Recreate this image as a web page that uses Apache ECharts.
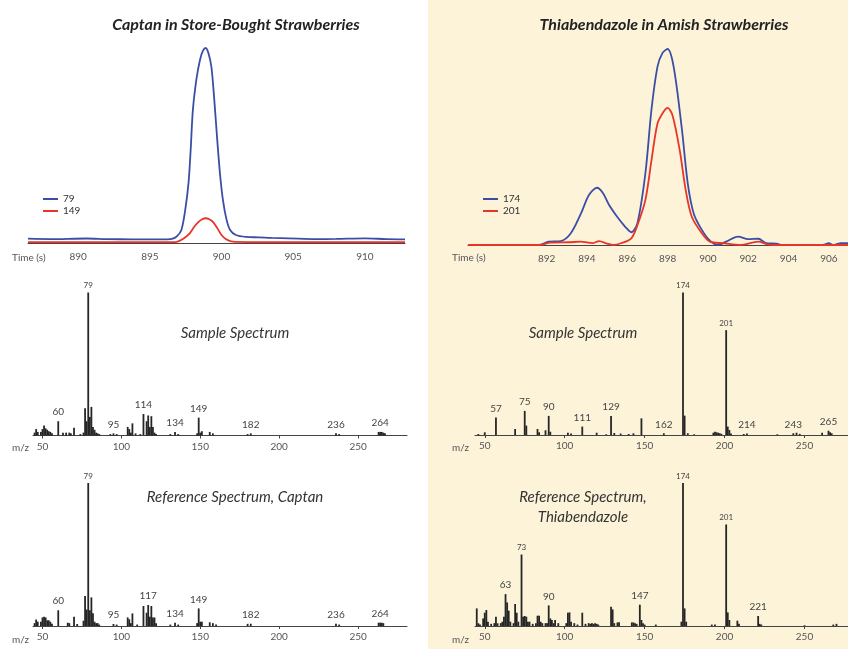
<!DOCTYPE html>
<html>
<head>
<meta charset="utf-8">
<script src="https://cdn.jsdelivr.net/npm/echarts@6/dist/echarts.min.js"></script>
<style>
  html, body { margin: 0; padding: 0; background: #ffffff; }
  #chart { width: 848px; height: 649px; }
</style>
</head>
<body>
<div id="chart"></div>
<script>
// ---------- Chromatogram data (time in s, relative intensity) ----------
const captanT79 = [886.5, 888, 890.6, 892, 893.8, 895, 896.2, 896.6, 896.9, 897.2, 897.45, 897.7, 897.85, 898.0, 898.25, 898.5, 898.7, 898.9, 899.1, 899.3, 899.5, 899.7, 899.9, 900.1, 900.35, 900.6, 901.0, 901.7, 902.6, 903.5, 904.7, 906.6, 908, 910, 911.5, 912.8];
const captanV79 = [2.2, 2.0, 2.3, 2.0, 1.9, 1.9, 1.9, 2.2, 3.5, 6.7, 16, 31, 48, 68, 84, 94, 98.5, 100, 97, 90, 73, 53, 35, 22, 12, 6.7, 4.1, 3.1, 2.9, 2.6, 2.4, 2.0, 2.1, 2.4, 2.0, 1.9];
const captanT149 = [886.5, 890, 895, 896.8, 897.1, 897.45, 897.8, 898.1, 898.4, 898.65, 898.9, 899.15, 899.4, 899.7, 900.0, 900.3, 900.6, 901, 903, 906, 910, 912.8];
const captanV149 = [0.4, 0.4, 0.4, 0.5, 1.2, 2.8, 5.1, 8.3, 10.8, 12.2, 12.7, 12.2, 10.8, 7.7, 4.1, 2.0, 1.0, 0.6, 0.5, 0.5, 0.5, 0.5];

const thiaT174 = [888.1, 890, 891.6, 892.1, 892.7, 893.2, 893.7, 894.1, 894.5, 894.8, 895.1, 895.5, 895.9, 896.2, 896.5, 896.9, 897.2, 897.5, 897.75, 898.0, 898.3, 898.7, 899.0, 899.3, 899.7, 900.1, 900.5, 900.9, 901.5, 902.0, 902.5, 902.9, 903.4, 903.7, 905.7, 906.0, 906.2, 906.6, 906.95];
const thiaV174 = [0, 0, 0, 1.7, 2, 6, 16, 25.5, 29.2, 26.4, 20.4, 14.4, 9.3, 6.5, 11, 36.6, 69, 91, 98, 100, 91, 60, 31.5, 16, 7.7, 2.2, 0, 1.7, 4.3, 3, 3.2, 0.9, 0.7, 0, 0, 0.9, 0, 1, 1];
const thiaT201 = [888.1, 891.6, 892.2, 893.1, 893.7, 894.05, 894.3, 894.6, 895.0, 895.3, 895.7, 896.2, 896.5, 896.9, 897.2, 897.5, 897.8, 898.0, 898.25, 898.6, 898.9, 899.2, 899.7, 900.1, 900.8, 901.6, 902.5, 902.9, 903.3, 906.95];
const thiaV201 = [0, 0, 1.2, 1.4, 1.7, 1.2, 1, 2, 0.7, 0, 0.9, 3.4, 10, 23, 43, 62, 68, 70, 66, 48.5, 28, 14.4, 6, 1.7, 0.9, 0, 1.7, 0.5, 0, 0];

const captanTicks = [890, 895, 900, 905, 910];
const thiaTicks = [892, 894, 896, 898, 900, 902, 904, 906];
const mzTicks = [50, 100, 150, 200, 250];

// ---------- Mass spectra (m/z, % of base peak) ----------
const captanSampleMz = [45,46,47,49,50,51,52,53,54,55,56,60,63,65,67,68,70,74,76,77,78,79,80,81,82,83,84,85,86,93,95,97,104,105,106,107,109,112,114,116,117,118,119,120,121,122,131,134,136,148,149,150,151,156,158,180,182,236,238,263,264,265,266,267];
const captanSampleInt = [2,4.5,2.5,2.5,4.5,7,5,4,3,2.5,1.5,10,2,2,2,1.5,5.5,1,2,19,10,100,13,20,6,4,2,1.5,1,1,1.5,1,6,4.5,2,8.5,1.5,1,15,10,14,6,13.5,6,2,1,1,2.5,1,1.5,12.5,2,3,2.5,1.5,1,1.5,1.5,1,2.5,2.5,2.5,2,1.5];
const captanSampleLabels = [60, 79, 95, 114, 134, 149, 182, 236, 264];

const captanRefMz = [45,46,47,49,50,51,52,53,54,55,56,60,66,67,70,72,76,77,78,79,80,81,82,83,84,85,86,95,97,104,105,106,107,110,114,116,117,118,119,120,121,122,131,134,136,148,149,150,151,156,158,160,180,182,236,238,263,264,265,266];
const captanRefInt = [2,4.5,3,3,6,6.5,6,4,4,3,1.5,11,2.3,2,6.5,1.4,3.7,21,11.5,100,11,20,9,3,2,2,1,1.4,1,6,4.7,2,8.8,1,14,9.3,14.7,6.5,14,6,6,2,1,2.3,1,2,12.3,3,3,2.6,2,1,1.5,1.6,1.5,1,2.3,2.3,2.3,2];
const captanRefLabels = [60, 79, 95, 117, 134, 149, 182, 236, 264];

const thiaSampleMz = [46,50,57,69,75,76,83,84,88,90,91,102,104,111,120,126,129,131,135,140,143,148,162,174,175,177,181,193,194,195,196,197,198,201,202,203,204,212,214,233,243,245,247,261,265,266,267];
const thiaSampleInt = [0.7,1.9,12.2,4.2,16.9,6.6,4.2,1.9,3.3,13.4,2.3,1.6,1,5.9,1.6,0.5,13.4,1.4,1,0.7,1.2,11.7,1.2,100,13.6,1.2,0.5,1.6,2.3,1.9,1.6,1.2,0.8,73.6,5.9,3.5,1,0.7,1,0.5,1.2,1.6,0.8,1.6,3,2,1.2];
const thiaSampleLabels = [57, 75, 90, 111, 129, 162, 174, 201, 214, 243, 265];

const thiaRefMz = [45,46,47,49,50,51,52,54,56,57,58,60,61,62,63,64,65,66,68,69,70,71,73,74,75,76,77,78,80,82,83,84,85,86,88,89,90,91,92,93,94,96,101,102,103,104,106,108,111,113,115,116,117,118,119,120,121,129,130,131,133,134,142,143,144,145,147,148,149,150,157,173,174,175,176,192,194,201,202,203,208,209,221,222,223,250,268,270];
const thiaRefInt = [12.3,1.9,1,5.3,9.3,11.2,3,1.5,2,6.5,1.9,2,3,6.5,22.3,16.5,10.7,3,2,15.4,9.3,3,50,6.5,7,6.5,3,3,1.5,2,7.2,7.2,3,2,2,2,14.4,5.3,4.2,2,4.2,2,2,9.3,9.5,3,2,1,9.3,1.5,2,1.5,2,1.5,2,1.5,1,13.5,11.6,2,2.5,2.6,2.5,2.5,2,1.5,14.9,4.2,2,1,1,3,100,12.3,3,1,1,71,9.5,4.2,3.7,1.5,7,1.5,1,0.5,1,1.5];
const thiaRefLabels = [63, 73, 90, 147, 174, 201, 221];

// ---------- Styling ----------
const FONT = '"Liberation Sans Narrow", "Lato", "Open Sans", sans-serif';
const TITLE_FONT = '"Lato", "Open Sans", sans-serif';
const BLUE = '#3b4ea6';
const RED = '#e8352a';
const AXIS = '#444444';
const TXT = '#555555';
const BAR = '#262626';
const CREAM = '#fcf3d9';

function zip(a, b) { return a.map((v, i) => [v, b[i]]); }

function barData(mz, inten, labels) {
  return mz.map((m, i) => {
    const item = { value: [m, inten[i]] };
    if (labels.includes(m)) {
      const big = inten[i] > 40;
      item.label = {
        show: true, position: 'top', distance: big ? 3 : 4,
        fontSize: big ? 8 : 10, color: '#444', fontFamily: FONT,
        formatter: String(m)
      };
    }
    return item;
  });
}

// grids: 0 captan chrom, 1 thia chrom, 2 captan sample, 3 thia sample, 4 captan ref, 5 thia ref
const grids = [
  { left: 28, width: 377, top: 48, height: 195 },
  { left: 468, width: 380, top: 49, height: 196 },
  { left: 33, width: 374, top: 292.5, height: 143 },
  { left: 475, width: 373, top: 292.5, height: 142.5 },
  { left: 33, width: 374, top: 483, height: 143 },
  { left: 475, width: 373, top: 483, height: 143 }
];

function chromX(idx, min, max, ticks) {
  return {
    type: 'value', gridIndex: idx, min: min, max: max,
    axisLine: { show: true, lineStyle: { color: AXIS, width: 1 } },
    axisTick: { show: false },
    splitLine: { show: false },
    axisLabel: { customValues: ticks, fontSize: 10, color: TXT, fontFamily: FONT, margin: 9 }
  };
}
function mzX(idx, min, max) {
  return {
    type: 'value', gridIndex: idx, min: min, max: max,
    axisLine: { show: true, lineStyle: { color: AXIS, width: 1 } },
    axisTick: { show: true, customValues: mzTicks, length: 3, lineStyle: { color: AXIS } },
    splitLine: { show: false },
    axisLabel: { customValues: mzTicks, fontSize: 10, color: TXT, fontFamily: FONT, margin: 6 }
  };
}
function hiddenY(idx, max) {
  return { type: 'value', gridIndex: idx, min: 0, max: max, show: false, splitLine: { show: false } };
}

function text(t, x, y, font, opts) {
  return {
    type: 'text', z: 5,
    style: Object.assign({ text: t, x: x, y: y, font: font, fill: '#333', textAlign: 'center', textVerticalAlign: 'middle' }, opts || {})
  };
}

const option = {
  backgroundColor: '#ffffff',
  animation: false,
  grid: grids,
  xAxis: [
    chromX(0, 886.5, 912.8, captanTicks),
    chromX(1, 888.1, 906.95, thiaTicks),
    mzX(2, 44, 281),
    mzX(3, 43.9, 277.2),
    mzX(4, 44, 281),
    mzX(5, 43.9, 277.2)
  ],
  yAxis: [hiddenY(0, 100), hiddenY(1, 100), hiddenY(2, 100), hiddenY(3, 100), hiddenY(4, 100), hiddenY(5, 100)],
  legend: [
    { data: ['79', '149'], orient: 'vertical', left: 38, top: 189, icon: 'rect', itemWidth: 15, itemHeight: 2, itemGap: 2,
      textStyle: { fontSize: 10, color: '#333', fontFamily: FONT }, selectedMode: false },
    { data: ['174', '201'], orient: 'vertical', left: 478, top: 189, icon: 'rect', itemWidth: 15, itemHeight: 2, itemGap: 2,
      textStyle: { fontSize: 10, color: '#333', fontFamily: FONT }, selectedMode: false }
  ],
  graphic: [
    { type: 'rect', z: -10, shape: { x: 428, y: 0, width: 420, height: 649 }, style: { fill: CREAM } },
    text('Captan in Store-Bought Strawberries', 236, 25, 'italic bold 16px ' + TITLE_FONT, { fill: '#222' }),
    text('Thiabendazole in Amish Strawberries', 664, 25, 'italic bold 16px ' + TITLE_FONT, { fill: '#222' }),
    text('Time (s)', 12, 258, '10px ' + FONT, { textAlign: 'left', fill: TXT }),
    text('Time (s)', 452, 258, '10px ' + FONT, { textAlign: 'left', fill: TXT }),
    text('m/z', 12, 448, '10px ' + FONT, { textAlign: 'left', fill: TXT }),
    text('m/z', 452, 448, '10px ' + FONT, { textAlign: 'left', fill: TXT }),
    text('m/z', 12, 640, '10px ' + FONT, { textAlign: 'left', fill: TXT }),
    text('m/z', 452, 640, '10px ' + FONT, { textAlign: 'left', fill: TXT }),
    text('Sample Spectrum', 235, 333, 'italic 15px ' + TITLE_FONT),
    text('Sample Spectrum', 583, 333, 'italic 15px ' + TITLE_FONT),
    text('Reference Spectrum, Captan', 235, 497, 'italic 15px ' + TITLE_FONT),
    text('Reference Spectrum,', 583, 497, 'italic 15px ' + TITLE_FONT),
    text('Thiabendazole', 583, 517, 'italic 15px ' + TITLE_FONT)
  ],
  series: [
    { name: '79', type: 'line', xAxisIndex: 0, yAxisIndex: 0, data: zip(captanT79, captanV79), smooth: 0.3, symbol: 'none',
      lineStyle: { color: BLUE, width: 1.8 }, itemStyle: { color: BLUE } },
    { name: '149', type: 'line', xAxisIndex: 0, yAxisIndex: 0, data: zip(captanT149, captanV149), smooth: 0.3, symbol: 'none',
      lineStyle: { color: RED, width: 1.8 }, itemStyle: { color: RED } },
    { name: '174', type: 'line', xAxisIndex: 1, yAxisIndex: 1, data: zip(thiaT174, thiaV174), smooth: 0.3, symbol: 'none',
      lineStyle: { color: BLUE, width: 1.8 }, itemStyle: { color: BLUE } },
    { name: '201', type: 'line', xAxisIndex: 1, yAxisIndex: 1, data: zip(thiaT201, thiaV201), smooth: 0.3, symbol: 'none',
      lineStyle: { color: RED, width: 1.8 }, itemStyle: { color: RED } },
    { type: 'bar', xAxisIndex: 2, yAxisIndex: 2, barWidth: 1.8, itemStyle: { color: BAR }, data: barData(captanSampleMz, captanSampleInt, captanSampleLabels) },
    { type: 'bar', xAxisIndex: 3, yAxisIndex: 3, barWidth: 1.8, itemStyle: { color: BAR }, data: barData(thiaSampleMz, thiaSampleInt, thiaSampleLabels) },
    { type: 'bar', xAxisIndex: 4, yAxisIndex: 4, barWidth: 1.8, itemStyle: { color: BAR }, data: barData(captanRefMz, captanRefInt, captanRefLabels) },
    { type: 'bar', xAxisIndex: 5, yAxisIndex: 5, barWidth: 1.8, itemStyle: { color: BAR }, data: barData(thiaRefMz, thiaRefInt, thiaRefLabels) }
  ]
};

const chart = echarts.init(document.getElementById('chart'), null, { renderer: 'canvas' });
chart.setOption(option);
</script>
</body>
</html>
